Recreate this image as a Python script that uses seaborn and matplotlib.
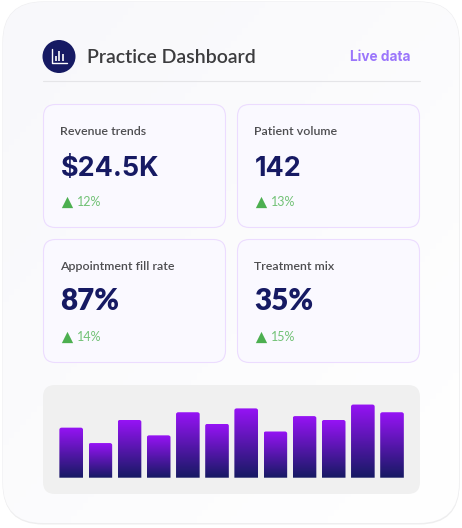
import numpy as np
import pandas as pd
import seaborn as sns
import matplotlib.pyplot as plt
from matplotlib.colors import LinearSegmentedColormap
from matplotlib.patches import Circle, FancyBboxPatch, PathPatch
from matplotlib.path import Path

# Daten
titles = ["Revenue trends", "Patient volume", "Appointment fill rate", "Treatment mix"]
values = ["$24.5K", "142", "87%", "35%"]
deltas = ["12%", "13%", "14%", "15%"]
bar_labels = [str(i) for i in range(1, 13)]
bar_values = [65, 45, 75, 55, 85, 70, 90, 60, 80, 75, 95, 85]

W, H = 462, 528
NAVY = "#161a63"
PURPLE = "#9613f5"
GREEN = "#4caf50"

sns.set_theme(style="white")
plt.rcParams["font.family"] = ["Lato", "DejaVu Sans"]

fig = plt.figure(figsize=(W / 100, H / 100), dpi=100, facecolor="white")

# Hintergrund in Pixelkoordinaten
bg = fig.add_axes([0, 0, 1, 1])
bg.set_xlim(0, W)
bg.set_ylim(H, 0)
bg.axis("off")


def rbox(x0, y0, x1, y1, r, **kw):
    p = FancyBboxPatch((x0 + r, y0 + r), x1 - x0 - 2 * r, y1 - y0 - 2 * r,
                       boxstyle=f"round,pad={r},rounding_size={r}", **kw)
    bg.add_patch(p)
    return p


# Schatten + Karte mit leichtem Verlauf
rbox(3, 3.5, 459.5, 524.5, 40, fc="#eeeeee", ec="none", zorder=0)
card = rbox(3, 2, 459, 523, 40, fc="#fbfbfc", ec="#efeff1", lw=0.9, zorder=1)
xx, yy = np.meshgrid(np.linspace(0, 1, 80), np.linspace(0, 1, 80))
shade = LinearSegmentedColormap.from_list("card", ["#f8f8fb", "#ffffff"])
im = bg.imshow(xx * 0.5 + yy * 0.5, extent=(3, 459, 523, 2), cmap=shade,
               aspect="auto", zorder=1.5)
im.set_clip_path(card)
bg.set_xlim(0, W)
bg.set_ylim(H, 0)

# Kopfzeile
bg.add_patch(Circle((59, 56.5), 16.5, fc=NAVY, ec="none", zorder=3))
bg.plot([52, 52, 66.5], [48.5, 63, 63], color="white", lw=1.0, zorder=4)
for x, top in zip([55.5, 59, 62.5], [56, 50.5, 54]):
    bg.plot([x, x], [top, 61], color="white", lw=1.2, zorder=4, solid_capstyle="butt")
bg.text(87, 63, "Practice Dashboard", fontsize=14.0, color="#3c3c3e", weight="semibold",
        va="baseline", zorder=4)
bg.text(350, 61, "Live data", fontsize=9.8, color="#9b76fb", weight="bold",
        family="Inter", va="baseline", zorder=4)
bg.plot([43, 420], [81, 81], color="#e5e5e8", lw=0.8, zorder=3)

# Kacheln
positions = [(43.5, 104.5), (237.5, 104.5), (43.5, 239.5), (237.5, 239.5)]
value_fonts = ["Inter", "Inter", "Lato", "Lato"]
value_sizes = [19.4, 19.4, 21.3, 21.3]
for i, (title, value, delta) in enumerate(zip(titles, values, deltas)):
    x, y = positions[i]
    rbox(x, y, x + 182, y + 123, 12, fc="#faf9ff", ec="#ecdcff", lw=0.8, zorder=3)
    bg.text(x + 17, y + 30.5, title, fontsize=8.9, color="#4d4d50", weight="semibold",
            va="baseline", zorder=4)
    bg.text(x + 17, y + 71, value, fontsize=value_sizes[i], color=NAVY,
            weight="bold" if i < 2 else "heavy",
            family=value_fonts[i], va="baseline", zorder=4)
    bg.scatter([x + 23], [y + 97], marker="^", s=66, color=GREEN, lw=0, zorder=4)
    bg.text(x + 33, y + 101.5, delta, fontsize=9, color="#72c276",
            va="baseline", zorder=4)

# Balkendiagramm
rbox(43, 385, 420, 494, 12, fc="#f0f0f0", ec="none", zorder=3)

df = pd.DataFrame({"label": bar_labels, "value": bar_values})
ax = fig.add_axes([56.6 / W, 1 - 477.7 / H, 350 / W, 77 / H], zorder=5)
sns.barplot(data=df, x="label", y="value", width=0.81, color=PURPLE, ax=ax)
ax.set_xlim(-0.5, 11.5)
ax.set_ylim(0, 100)
ax.axis("off")

grad = LinearSegmentedColormap.from_list("bars", [PURPLE, NAVY])
r_x = 0.08
r_y = 2.6
for bar in list(ax.patches):
    x0, w, h = bar.get_x(), bar.get_width(), bar.get_height()
    x1 = x0 + w
    verts = [(x0, 0), (x0, h - r_y), (x0, h), (x0 + r_x, h), (x1 - r_x, h), (x1, h),
             (x1, h - r_y), (x1, 0), (x0, 0)]
    codes = [Path.MOVETO, Path.LINETO, Path.CURVE3, Path.CURVE3, Path.LINETO,
             Path.CURVE3, Path.CURVE3, Path.LINETO, Path.CLOSEPOLY]
    shape = PathPatch(Path(verts, codes), fc="none", ec="none", transform=ax.transData)
    ax.add_patch(shape)
    g = ax.imshow(np.linspace(0, 1, 128).reshape(-1, 1), extent=(x0, x1, 0, h),
                  cmap=grad, aspect="auto", zorder=3)
    g.set_clip_path(shape)
    bar.set_visible(False)
ax.set_xlim(-0.5, 11.5)
ax.set_ylim(0, 100)

fig.savefig("out.png", dpi=100, facecolor="white")
